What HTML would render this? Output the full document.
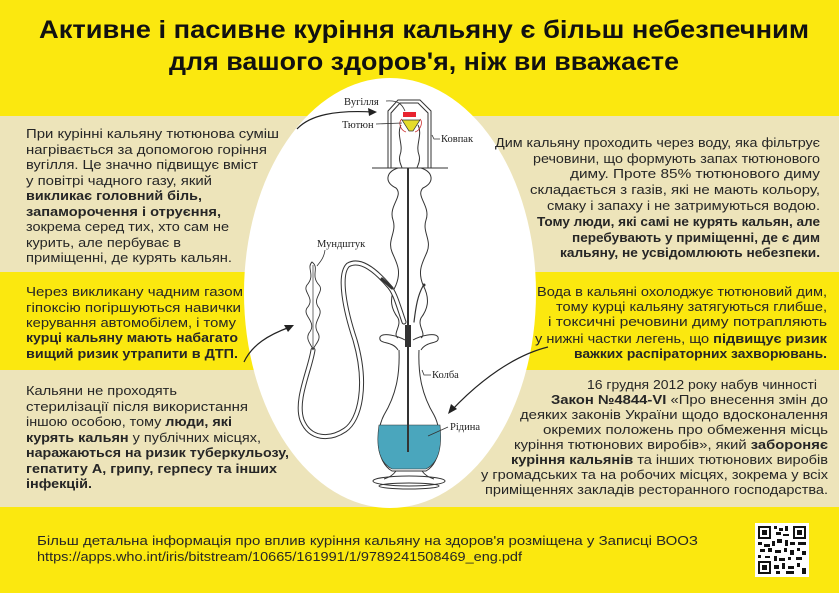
<!DOCTYPE html>
<html><head><meta charset="utf-8"><style>
html,body{margin:0;padding:0;width:839px;height:593px;overflow:hidden;background:#fbe80f}
svg{display:block}
text{font-family:"Liberation Sans",sans-serif;fill:#262626;font-size:13px}
.b{font-weight:bold}
.s{font-family:"Liberation Serif",serif;font-size:10.5px;fill:#222}
</style></head><body>
<svg width="839" height="593" viewBox="0 0 839 593" xmlns="http://www.w3.org/2000/svg">
<rect x="0" y="0" width="839" height="593" fill="#fbe80f"/>
<rect x="0" y="116" width="839" height="156" fill="#ede4ba"/>
<rect x="0" y="370" width="839" height="137" fill="#ede4ba"/>
<ellipse cx="390" cy="293" rx="146" ry="215" fill="#ffffff"/>

<text x="424" y="38" text-anchor="middle" class="b" style="font-size:25px;fill:#111" textLength="770" lengthAdjust="spacingAndGlyphs">Активне і пасивне куріння кальяну є більш небезпечним</text>
<text x="424" y="70" text-anchor="middle" class="b" style="font-size:25px;fill:#111" textLength="510" lengthAdjust="spacingAndGlyphs">для вашого здоров'я, ніж ви вважаєте</text>

<g>
<text x="26" y="138" textLength="253" lengthAdjust="spacingAndGlyphs">При курінні кальяну тютюнова суміш</text>
<text x="26" y="154" textLength="241" lengthAdjust="spacingAndGlyphs">нагрівається за допомогою горіння</text>
<text x="26" y="169" textLength="232" lengthAdjust="spacingAndGlyphs">вугілля. Це значно підвищує вміст</text>
<text x="26" y="185" textLength="186" lengthAdjust="spacingAndGlyphs">у повітрі чадного газу, який</text>
<text x="26" y="200" class="b" textLength="176" lengthAdjust="spacingAndGlyphs">викликає головний біль,</text>
<text x="26" y="216" class="b" textLength="195" lengthAdjust="spacingAndGlyphs">запаморочення і отруєння,</text>
<text x="26" y="231" textLength="203" lengthAdjust="spacingAndGlyphs">зокрема серед тих, хто сам не</text>
<text x="26" y="247" textLength="155" lengthAdjust="spacingAndGlyphs">курить, але пербуває в</text>
<text x="26" y="262" textLength="206" lengthAdjust="spacingAndGlyphs">приміщенні, де курять кальян.</text>
</g>
<g>
<text x="26" y="296" textLength="217" lengthAdjust="spacingAndGlyphs">Через викликану чадним газом</text>
<text x="26" y="312" textLength="215" lengthAdjust="spacingAndGlyphs">гіпоксію погіршуються навички</text>
<text x="26" y="327" textLength="210" lengthAdjust="spacingAndGlyphs">керування автомобілем, і тому</text>
<text x="26" y="342" class="b" textLength="212" lengthAdjust="spacingAndGlyphs">курці кальяну мають набагато</text>
<text x="26" y="358" class="b" textLength="212" lengthAdjust="spacingAndGlyphs">вищий ризик утрапити в ДТП.</text>
</g>
<g>
<text x="26" y="395" textLength="151" lengthAdjust="spacingAndGlyphs">Кальяни не проходять</text>
<text x="26" y="411" textLength="222" lengthAdjust="spacingAndGlyphs">стерилізації після використання</text>
<text x="26" y="426" textLength="206" lengthAdjust="spacingAndGlyphs">іншою особою, тому <tspan class="b">люди, які</tspan></text>
<text x="26" y="442" textLength="235" lengthAdjust="spacingAndGlyphs"><tspan class="b">курять кальян</tspan> у публічних місцях,</text>
<text x="26" y="457" class="b" textLength="263" lengthAdjust="spacingAndGlyphs">наражаються на ризик туберкульозу,</text>
<text x="26" y="473" class="b" textLength="251" lengthAdjust="spacingAndGlyphs">гепатиту А, грипу, герпесу та інших</text>
<text x="26" y="488" class="b" textLength="66" lengthAdjust="spacingAndGlyphs">інфекцій.</text>
</g>

<g text-anchor="end">
<text x="820" y="147" textLength="325" lengthAdjust="spacingAndGlyphs">Дим кальяну проходить через воду, яка фільтрує</text>
<text x="820" y="163" textLength="287" lengthAdjust="spacingAndGlyphs">речовини, що формують запах тютюнового</text>
<text x="820" y="178" textLength="250" lengthAdjust="spacingAndGlyphs">диму. Проте 85% тютюнового диму</text>
<text x="820" y="194" textLength="290" lengthAdjust="spacingAndGlyphs">складається з газів, які не мають кольору,</text>
<text x="820" y="210" textLength="273" lengthAdjust="spacingAndGlyphs">смаку і запаху і не затримуються водою.</text>
<text x="820" y="226" class="b" textLength="283" lengthAdjust="spacingAndGlyphs">Тому люди, які самі не курять кальян, але</text>
<text x="820" y="242" class="b" textLength="248" lengthAdjust="spacingAndGlyphs">перебувають у приміщенні, де є дим</text>
<text x="820" y="257" class="b" textLength="260" lengthAdjust="spacingAndGlyphs">кальяну, не усвідомлюють небезпеки.</text>
</g>
<g text-anchor="end">
<text x="827" y="296" textLength="290" lengthAdjust="spacingAndGlyphs">Вода в кальяні охолоджує тютюновий дим,</text>
<text x="827" y="311" textLength="271" lengthAdjust="spacingAndGlyphs">тому курці кальяну затягуються глибше,</text>
<text x="827" y="326" textLength="279" lengthAdjust="spacingAndGlyphs">і токсичні речовини диму потрапляють</text>
<text x="827" y="343" textLength="292" lengthAdjust="spacingAndGlyphs">у нижні частки легень, що <tspan class="b">підвищує ризик</tspan></text>
<text x="827" y="358" class="b" textLength="253" lengthAdjust="spacingAndGlyphs">важких распіраторних захворювань.</text>
</g>
<g text-anchor="end">
<text x="817" y="389" textLength="230" lengthAdjust="spacingAndGlyphs">16 грудня 2012 року набув чинності</text>
<text x="828" y="404" textLength="277" lengthAdjust="spacingAndGlyphs"><tspan class="b">Закон №4844-VI</tspan> «Про внесення змін до</text>
<text x="828" y="419" textLength="308" lengthAdjust="spacingAndGlyphs">деяких законів України щодо вдосконалення</text>
<text x="828" y="434" textLength="285" lengthAdjust="spacingAndGlyphs">окремих положень про обмеження місць</text>
<text x="828" y="449" textLength="314" lengthAdjust="spacingAndGlyphs">куріння тютюнових виробів», який <tspan class="b">забороняє</tspan></text>
<text x="828" y="464" textLength="317" lengthAdjust="spacingAndGlyphs"><tspan class="b">куріння кальянів</tspan> та інших тютюнових виробів</text>
<text x="828" y="479" textLength="347" lengthAdjust="spacingAndGlyphs">у громадських та на робочих місцях, зокрема у всіх</text>
<text x="828" y="494" textLength="343" lengthAdjust="spacingAndGlyphs">приміщеннях закладів ресторанного господарства.</text>
</g>

<text x="37" y="545" textLength="661" lengthAdjust="spacingAndGlyphs">Більш детальна інформація про вплив куріння кальяну на здоров'я розміщена у Записці ВООЗ</text>
<text x="37" y="561" textLength="485" lengthAdjust="spacingAndGlyphs">https://apps.who.int/iris/bitstream/10665/161991/1/9789241508469_eng.pdf</text>

<rect x="755" y="523" width="54" height="54" fill="#fff"/>
<g fill="#111">
<rect x="758" y="526" width="13" height="13"/><rect x="760" y="528" width="9" height="9" fill="#fff"/><rect x="762" y="530" width="5" height="5"/>
<rect x="793" y="526" width="13" height="13"/><rect x="795" y="528" width="9" height="9" fill="#fff"/><rect x="797" y="530" width="5" height="5"/>
<rect x="758" y="561" width="13" height="13"/><rect x="760" y="563" width="9" height="9" fill="#fff"/><rect x="762" y="565" width="5" height="5"/>
<rect x="774" y="526" width="3" height="3"/><rect x="779" y="528" width="4" height="3"/><rect x="785" y="526" width="3" height="5"/><rect x="776" y="532" width="5" height="3"/><rect x="783" y="534" width="6" height="2"/>
<rect x="758" y="542" width="4" height="3"/><rect x="764" y="544" width="6" height="3"/><rect x="772" y="541" width="3" height="5"/><rect x="777" y="539" width="5" height="4"/><rect x="785" y="540" width="3" height="6"/><rect x="790" y="542" width="5" height="3"/><rect x="798" y="542" width="8" height="3"/>
<rect x="760" y="549" width="5" height="3"/><rect x="768" y="548" width="4" height="4"/><rect x="775" y="550" width="6" height="3"/><rect x="784" y="548" width="3" height="4"/><rect x="790" y="550" width="4" height="5"/><rect x="797" y="548" width="3" height="3"/><rect x="802" y="551" width="4" height="4"/>
<rect x="758" y="555" width="3" height="3"/><rect x="765" y="556" width="5" height="2"/><rect x="774" y="556" width="3" height="5"/><rect x="779" y="558" width="6" height="3"/><rect x="788" y="557" width="3" height="3"/><rect x="796" y="557" width="6" height="3"/>
<rect x="774" y="565" width="5" height="4"/><rect x="782" y="563" width="3" height="6"/><rect x="788" y="566" width="6" height="3"/><rect x="797" y="563" width="3" height="4"/><rect x="802" y="568" width="4" height="6"/><rect x="776" y="571" width="4" height="3"/><rect x="786" y="571" width="8" height="3"/>
</g>

<g fill="none" stroke="#333" stroke-width="1">
  <path d="M388,168 L388,111 L398,100 L420,100 L431,111 L431,168"/>
  <path d="M391,168 L391,113 L400,103 L418,103 L428,113 L428,168"/>
  <line x1="372" y1="168" x2="448" y2="168"/>
  <path d="M401,125 C396,135 404,145 400,155 C398,162 402,166 402,168"/>
  <path d="M418,125 C423,135 415,145 419,155 C421,162 417,166 417,168"/>
  <path d="M398,168 C386,172 384,182 396,188 C404,196 388,206 393,220 C397,232 387,240 392,252 C396,262 402,270 396,285 C388,300 392,310 398,318 C402,326 392,334 398,338"/>
  <path d="M421,168 C433,172 435,182 423,188 C415,196 431,206 426,220 C422,232 432,240 427,252 C423,262 417,270 423,285 C431,300 427,310 421,318 C417,326 427,334 421,338"/>
  <path d="M398,350 C392,340 378,345 380,337 C383,332 398,336 405,340"/>
  <path d="M421,350 C427,340 440,345 438,337 C435,332 420,336 413,340"/>
  <path d="M399,350 C400,375 396,395 384,415 C375,432 376,462 392,471 L426,471 C442,462 443,432 434,415 C422,395 418,375 419,350"/>
  <path d="M396,471 C393,475 390,477 384,479 M422,471 C425,475 428,477 434,479"/>
  <ellipse cx="409" cy="481" rx="36" ry="5"/>
  <ellipse cx="409" cy="486" rx="30" ry="3"/>
</g>
<path d="M379,425 L440,425 C442,445 440,462 426,469 L392,469 C378,462 376,445 379,425 Z" fill="#4aa6bd" stroke="#333" stroke-width="0.6"/>
<line x1="408" y1="168" x2="408" y2="452" stroke="#333" stroke-width="2"/>
<rect x="405" y="325" width="6" height="22" fill="#333"/>
<rect x="403" y="112" width="13" height="5" fill="#e8232f"/>
<path d="M402,120 L420,120 L413,131 L409,131 Z" fill="#e5dc2a" stroke="#333" stroke-width="0.7"/>
<path d="M402,119 C398,122 400,130 406,132 M420,119 C423,122 421,130 415,132" fill="none" stroke="#c33" stroke-width="0.8"/>
<g fill="none" stroke-linecap="round">
  <path d="M404,322 C398,305 395,292 388,285 C375,270 360,258 348,265 C338,275 345,310 355,340 C368,385 360,420 345,430 C330,440 310,440 302,420 C295,400 310,370 313,350" stroke="#333" stroke-width="5"/>
  <path d="M404,322 C398,305 395,292 388,285 C375,270 360,258 348,265 C338,275 345,310 355,340 C368,385 360,420 345,430 C330,440 310,440 302,420 C295,400 310,370 313,350" stroke="#fff" stroke-width="3"/>
  <path d="M414,322 C416,305 418,295 423,286" stroke="#333" stroke-width="1.2"/>
  <circle cx="424" cy="285" r="1.5" fill="#333" stroke="none"/>
  <path d="M382,279 L392,288" stroke="#333" stroke-width="3"/>
</g>
<path d="M312,262 C306,268 316,275 307,285 C302,292 316,298 307,308 C302,316 318,322 309,333 C305,340 312,345 313,350 C314,345 322,340 318,333 C311,322 324,316 319,308 C311,298 325,292 319,285 C310,275 320,268 312,262 Z" fill="#fff" stroke="#333" stroke-width="0.9"/>
<line x1="313" y1="265" x2="313" y2="350" stroke="#333" stroke-width="0.7"/>
<text class="s" x="344" y="105">Вугілля</text>
<text class="s" x="342" y="128">Тютюн</text>
<text class="s" x="441" y="142">Ковпак</text>
<text class="s" x="317" y="247">Мундштук</text>
<text class="s" x="432" y="378">Колба</text>
<text class="s" x="450" y="430">Рідина</text>
<g fill="none" stroke="#333" stroke-width="0.8">
  <path d="M386,101 C398,100 402,104 405,111"/>
  <path d="M376,124 L402,123"/>
  <path d="M440,139 L434,139 L432,135"/>
  <path d="M325,250 C324,258 320,262 317,266"/>
  <path d="M431,375 L424,375 L422,370"/>
  <path d="M448,427 L428,436"/>
</g>
<g fill="none" stroke="#222" stroke-width="1.2">
  <path d="M297,129 C310,115 335,110 373,112"/>
  <path d="M244,362 C252,345 268,335 290,327"/>
  <path d="M548,347 C515,355 480,380 451,411"/>
</g>
<g fill="#222">
  <path d="M377,112 L368,108 L369,116 Z"/>
  <path d="M294,325 L284,325 L288,332 Z"/>
  <path d="M448,414 L451,404 L457,409 Z"/>
</g>
</svg>
</body></html>
